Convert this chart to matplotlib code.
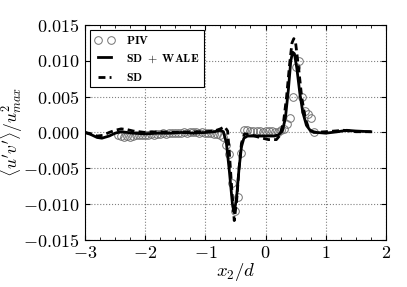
import matplotlib
matplotlib.use("Agg")
import matplotlib.pyplot as plt
from matplotlib.ticker import MultipleLocator, FuncFormatter

plt.rcParams['mathtext.fontset'] = 'cm'
plt.rcParams['font.family'] = 'serif'
plt.rcParams['font.serif'] = ['cmr10', 'DejaVu Serif']
plt.rcParams['axes.formatter.use_mathtext'] = True

# PIV measurements
piv_x = [-2.45, -2.40, -2.35, -2.30, -2.25, -2.20, -2.15, -2.10, -2.05, -2.00,
         -1.95, -1.90, -1.85, -1.80, -1.75, -1.70, -1.65, -1.60, -1.55, -1.50,
         -1.45, -1.40, -1.35, -1.30, -1.25, -1.20, -1.15, -1.10, -1.05, -1.00,
         -0.95, -0.90, -0.85, -0.80, -0.75, -0.70, -0.65, -0.60, -0.55, -0.50,
         -0.45, -0.40, -0.35, -0.30, -0.25, -0.20, -0.15, -0.10, -0.05, 0.00,
         0.05, 0.10, 0.15, 0.20, 0.25, 0.30, 0.35, 0.40, 0.45, 0.50,
         0.55, 0.60, 0.65, 0.70, 0.75, 0.80]
piv_y = [-0.0004, -0.0005, -0.0006, -0.0005, -0.0006, -0.0005, -0.0004, -0.0004, -0.0003, -0.0003,
         -0.0003, -0.0002, -0.0003, -0.0002, -0.0002, -0.0001, -0.0002, -0.0001, -0.0001, -0.0001,
         -0.0001, -0.0001, 0.0000, -0.0001, 0.0000, 0.0000, 0.0000, -0.0001, 0.0000, -0.0001,
         -0.0001, -0.0001, -0.0002, -0.0002, -0.0003, -0.0006, -0.0018, -0.0030, -0.0070, -0.0110,
         -0.0090, -0.0028, 0.0003, 0.0003, 0.0002, 0.0002, 0.0002, 0.0002, 0.0001, 0.0002,
         0.0002, 0.0002, 0.0001, 0.0001, 0.0003, 0.0005, 0.0012, 0.0020, 0.0050, 0.0092,
         0.0100, 0.0050, 0.0030, 0.0026, 0.0020, 0.0001]

# SD + WALE
wale_x = [-3.00, -2.90, -2.80, -2.72, -2.60, -2.50, -2.40, -2.30, -2.20, -2.00,
          -1.80, -1.60, -1.40, -1.20, -1.00, -0.85, -0.75, -0.70, -0.65, -0.60,
          -0.55, -0.52, -0.48, -0.44, -0.40, -0.36, -0.30, -0.20, 0.00, 0.15,
          0.22, 0.28, 0.33, 0.38, 0.42, 0.45, 0.48, 0.52, 0.57, 0.62,
          0.68, 0.75, 0.85, 1.00, 1.20, 1.35, 1.50, 1.75]
wale_y = [0.0000, -0.0003, -0.0007, -0.0008, -0.0005, -0.0001, 0.0001, 0.0000, -0.0001, -0.0002,
          -0.0001, -0.0001, 0.0000, -0.0001, 0.0000, 0.0001, 0.0003, 0.0001, -0.0015, -0.0055,
          -0.0100, -0.0112, -0.0090, -0.0050, -0.0020, -0.0008, -0.0005, -0.0005, -0.0005, -0.0005,
          -0.0003, 0.0002, 0.0020, 0.0060, 0.0100, 0.0112, 0.0110, 0.0090, 0.0055, 0.0028,
          0.0010, 0.0002, 0.0000, -0.0001, 0.0001, 0.0003, 0.0002, 0.0001]

# SD
sd_x = [-3.00, -2.90, -2.80, -2.70, -2.60, -2.50, -2.40, -2.30, -2.20, -2.00,
        -1.80, -1.50, -1.20, -1.00, -0.85, -0.75, -0.68, -0.63, -0.60, -0.56,
        -0.52, -0.48, -0.44, -0.40, -0.35, -0.25, -0.10, 0.05, 0.18, 0.24,
        0.30, 0.35, 0.40, 0.44, 0.47, 0.50, 0.55, 0.60, 0.66, 0.72,
        0.80, 1.00, 1.15, 1.30, 1.50, 1.75]
sd_y = [0.0000, -0.0002, -0.0005, -0.0004, 0.0000, 0.0003, 0.0005, 0.0004, 0.0002, 0.0000,
        0.0001, 0.0000, 0.0001, 0.0001, 0.0002, 0.0005, 0.0008, 0.0002, -0.0030, -0.0080,
        -0.0123, -0.0095, -0.0050, -0.0015, -0.0002, -0.0003, -0.0007, -0.0010, -0.0010, -0.0004,
        0.0015, 0.0050, 0.0095, 0.0125, 0.0131, 0.0125, 0.0090, 0.0050, 0.0020, 0.0005,
        0.0000, 0.0001, 0.0002, 0.0003, 0.0001, 0.0001]

fig = plt.figure(figsize=(4.07, 2.87), dpi=100)
ax = fig.add_axes([0.209, 0.164, 0.739, 0.749])

ax.plot(piv_x, piv_y, 'o', mfc='none', mec='0.45', ms=5.5, mew=0.7, label=r'$\mathbf{PIV}$')
ax.plot(wale_x, wale_y, '-', color='k', lw=2, label=r'$\mathbf{SD\ +\ WALE}$')
ax.plot(sd_x, sd_y, color='k', lw=2, ls=(0, (2.5, 1.5)), label=r'$\mathbf{SD}$')

ax.set_xlim(-3, 2)
ax.set_ylim(-0.015, 0.015)
ax.xaxis.set_major_locator(MultipleLocator(1))
ax.xaxis.set_minor_locator(MultipleLocator(0.25))
ax.yaxis.set_major_locator(MultipleLocator(0.005))
ax.xaxis.set_major_formatter(FuncFormatter(lambda v, p: r'$%d$' % round(v)))
ax.yaxis.set_major_formatter(FuncFormatter(lambda v, p: r'$%.3f$' % v))
ax.tick_params(direction='in', top=True, right=True, labelsize=13, pad=4)
ax.tick_params(which='minor', direction='in', top=True, length=2)
ax.grid(True, ls=':', color='0.5', lw=0.8)

ax.set_xlabel(r'$x_2/d$', fontsize=13.5, labelpad=0)
ax.set_ylabel(r"$\langle u'v'\rangle/u^2_{max}$", fontsize=12.5)
ax.yaxis.set_label_coords(-0.20, 0.5)

leg = ax.legend(loc='upper left', fontsize=8.5, fancybox=False, edgecolor='k',
                framealpha=1, borderaxespad=0.4, handlelength=1.7,
                handletextpad=1.0, numpoints=2)
leg.get_frame().set_linewidth(0.8)

fig.savefig('out.png', dpi=100)
